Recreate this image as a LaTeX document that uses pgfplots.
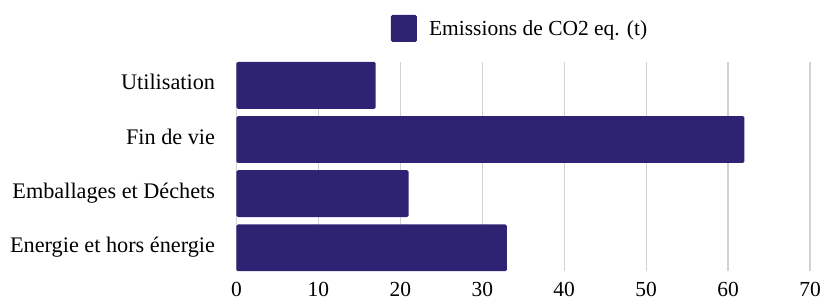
\documentclass[border=0pt]{standalone}
\usepackage{fontspec}
\setmainfont{Liberation Serif}
\usepackage{pgfplots}
\pgfplotsset{compat=1.18}
\definecolor{barc}{HTML}{2E2372}
\definecolor{gridc}{HTML}{D2D2D2}
\begin{document}
\begin{tikzpicture}
\begin{axis}[
  at={(0,0)}, anchor=south west,
  scale only axis,
  width=575bp, height=210bp,
  xbar, bar width=0.866,
  xmin=0, xmax=70,
  ymin=-0.435, ymax=3.435,
  ytick={0,1,2,3},
  yticklabels={Energie et hors énergie, Emballages et Déchets, Fin de vie, Utilisation},
  xtick={0,10,...,70},
  axis line style={draw=none},
  tick style={draw=none},
  xmajorgrids, grid style={gridc, line width=1.2pt},
  /pgf/number format/assume math mode=true,
  ticklabel style={font=\fontsize{21.5bp}{24bp}\selectfont, inner sep=0pt},
  xticklabel style={anchor=base, yshift=-25bp},
  yticklabel style={anchor=base east, xshift=-17bp, yshift=-4.5bp, font=\fontsize{22.3bp}{24bp}\selectfont},
  legend style={at={(0.269,1.1595)}, anchor=west, draw=none, fill=none,
    font=\fontsize{21.5bp}{24bp}\selectfont, inner sep=0pt, nodes={inner sep=0pt}},
  legend image code/.code={\fill[#1] (0bp,-13bp) rectangle (26bp,14bp);},
  clip=false,
]
\addplot[fill=barc, draw=none, rounded corners=1.5bp] coordinates {(33,0) (21,1) (62,2) (17,3)};
\addlegendentry{\hspace{12.3bp}Emissions de CO2 eq. (t)}
\end{axis}
\pgfresetboundingbox
\path (-237bp,-30bp) rectangle (585bp,272bp);
\end{tikzpicture}
\end{document}
